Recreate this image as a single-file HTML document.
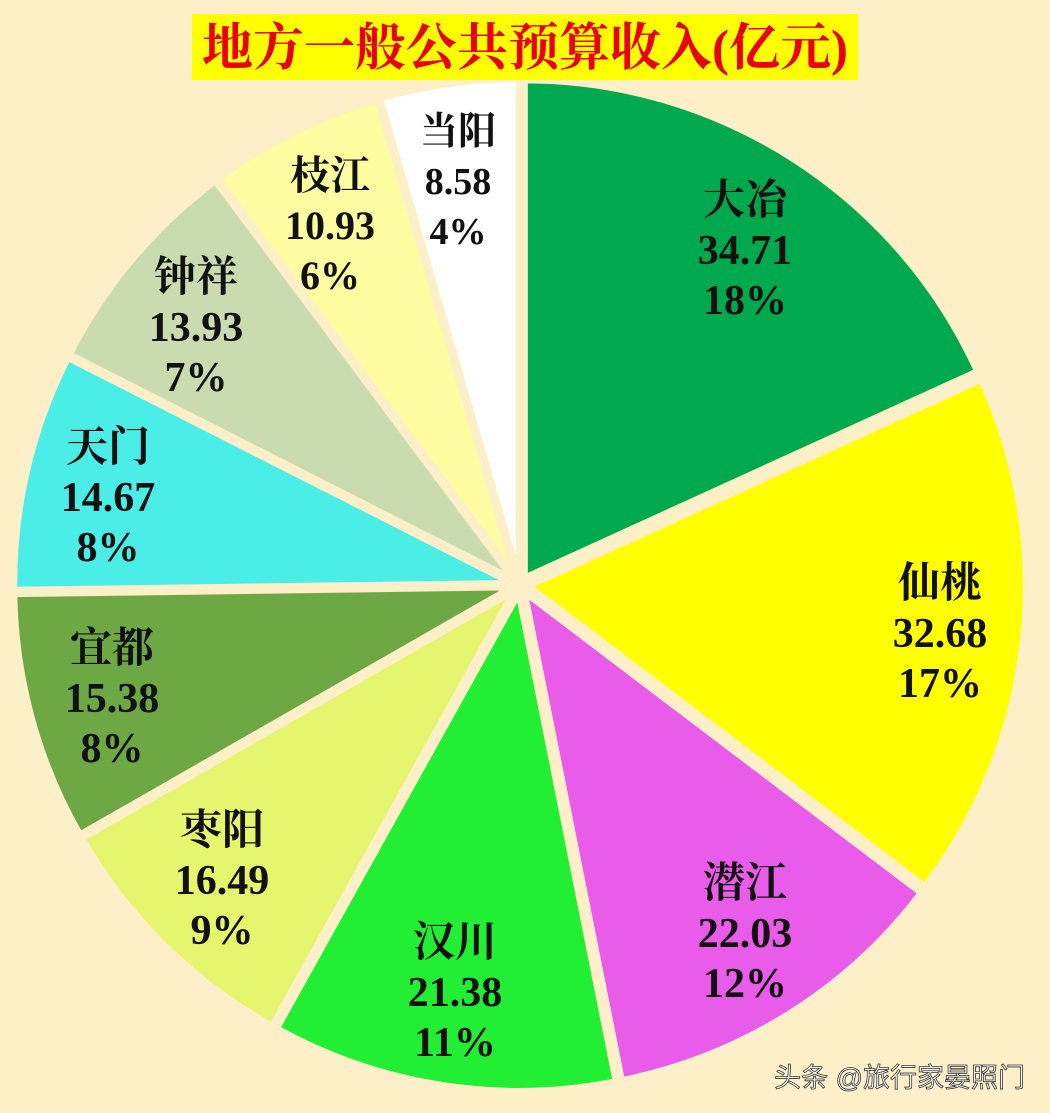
<!DOCTYPE html>
<html><head><meta charset="utf-8">
<style>
html,body{margin:0;padding:0;background:#fdefc8;}
svg{display:block;}
</style></head>
<body>
<svg id="s" width="1050" height="1113" xmlns="http://www.w3.org/2000/svg">
<rect width="1050" height="1113" fill="#fdefc8"/>
<g id="pie"></g>
<rect x="192" y="14" width="666" height="66" fill="#ffff00"/>
<text x="525" y="65" text-anchor="middle" font-family="'Liberation Serif','Noto Serif CJK SC',serif" font-weight="bold" font-size="51" fill="#e8000b">地方一般公共预算收入(亿元)</text>
<g font-family="'Liberation Serif','Noto Serif CJK SC',serif" font-weight="bold" fill="#111" text-anchor="middle" id="labels"></g>
<text x="1025" y="1087" text-anchor="end" font-family="'Liberation Sans','Noto Sans CJK SC',sans-serif" font-size="27" fill="#ffffff" stroke="#333" stroke-width="0.8">头条 @旅行家晏照门</text>
</svg>
<script>
var data=[["大冶",34.71,"18%","#00a84e",745,200,42],
["仙桃",32.68,"17%","#ffff00",940,583,42],
["潜江",22.03,"12%","#e95be9",745,883,42],
["汉川",21.38,"11%","#22ee33",455,942,42],
["枣阳",16.49,"9%","#e5f56e",222,830,42],
["宜都",15.38,"8%","#6da845",112,648,42],
["天门",14.67,"8%","#4aeee6",108,447,42],
["钟祥",13.93,"7%","#c8dcb0",196,277,42],
["枝江",10.93,"6%","#fdfca0",330,175,40],
["当阳",8.58,"4%","#ffffff",458,130,38]];
var tot=0;data.forEach(function(d){tot+=d[1];});
var cx=520,cy=585,r=497,ex=9,a=0,pie=document.getElementById('pie'),lab=document.getElementById('labels'),ns="http://www.w3.org/2000/svg";
data.forEach(function(d){
 var da=d[1]/tot*2*Math.PI,a0=a,a1=a+da,m=(a0+a1)/2;a=a1;
 var ox=cx+ex*Math.sin(m),oy=cy-ex*Math.cos(m);
 var x0=ox+r*Math.sin(a0),y0=oy-r*Math.cos(a0),x1=ox+r*Math.sin(a1),y1=oy-r*Math.cos(a1);
 var p=document.createElementNS(ns,'path');
 p.setAttribute('d','M'+ox+' '+oy+'L'+x0+' '+y0+'A'+r+' '+r+' 0 '+(da>Math.PI?1:0)+' 1 '+x1+' '+y1+'Z');
 p.setAttribute('fill',d[3]);p.setAttribute('stroke','#fdefc8');p.setAttribute('stroke-width','6');
 pie.appendChild(p);
 var lines=[d[0],d[1].toFixed(2),d[2]];
 lines.forEach(function(t,i){
  var e=document.createElementNS(ns,'text');
  e.setAttribute('x',d[4]);e.setAttribute('y',d[5]+14+i*50);e.setAttribute('font-size',d[6]);
  e.textContent=t;lab.appendChild(e);
 });
});
</script>
</body></html>
